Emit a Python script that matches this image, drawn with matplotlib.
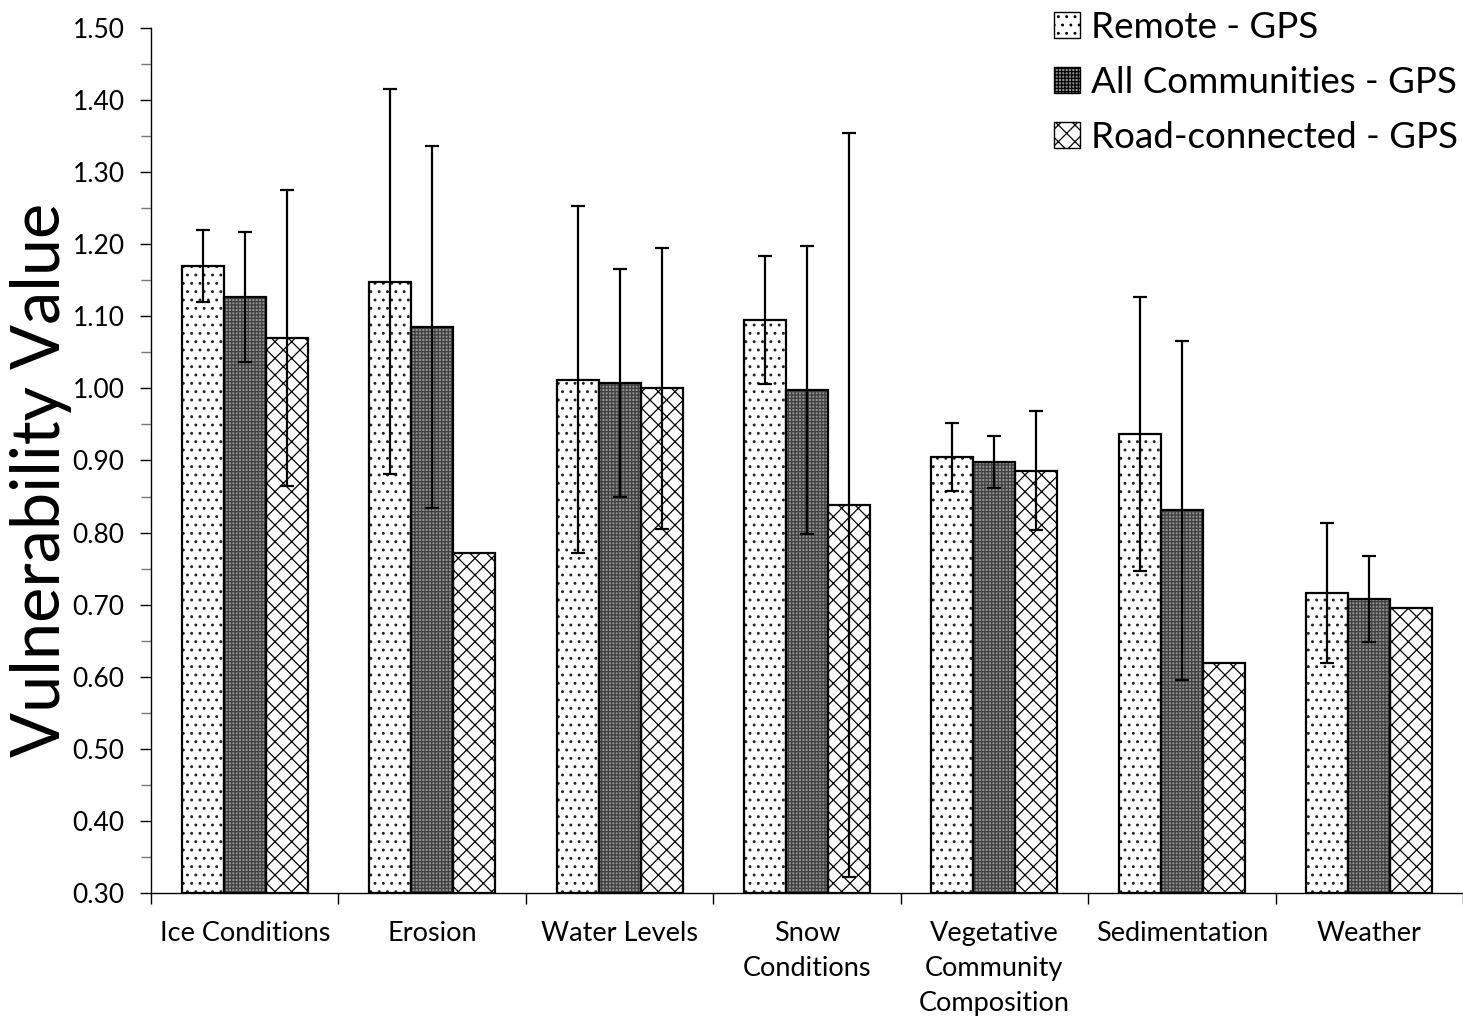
import numpy as np
import matplotlib
matplotlib.use("Agg")
from matplotlib import pyplot as plt
from matplotlib.ticker import MultipleLocator

# Data
categories = ["Ice Conditions", "Erosion", "Water Levels", "Snow\nConditions",
              "Vegetative\nCommunity\nComposition", "Sedimentation", "Weather"]
series_names = ["Remote - GPS", "All Communities - GPS", "Road-connected - GPS"]

remote = [1.170, 1.148, 1.012, 1.095, 0.905, 0.937, 0.716]
remote_err = [0.050, 0.267, 0.241, 0.089, 0.047, 0.190, 0.097]

all_comm = [1.127, 1.085, 1.008, 0.998, 0.898, 0.831, 0.708]
all_comm_err = [0.090, 0.251, 0.158, 0.200, 0.036, 0.235, 0.060]

road = [1.070, 0.772, 1.000, 0.838, 0.886, 0.619, 0.696]
road_err = [0.205, 0.0, 0.195, 0.516, 0.083, 0.0, 0.0]

plt.rcParams['font.family'] = ['Lato', 'DejaVu Sans']
plt.rcParams['hatch.linewidth'] = 0.9

fig = plt.figure(figsize=(14.63, 10.21), dpi=100)
ax = fig.add_axes([0.1032, 0.1254, 0.8968, 0.8472])

x = np.arange(len(categories))
width = 0.224
styles = [
    dict(facecolor="white", hatch="..", edgecolor="#222222"),
    dict(facecolor="#909090", hatch="+++++", edgecolor="#404040"),
    dict(facecolor="white", hatch="xx", edgecolor="black"),
]
values = [remote, all_comm, road]
errors = [remote_err, all_comm_err, road_err]

for i, (vals, errs, st, name) in enumerate(zip(values, errors, styles, series_names)):
    pos = x + (i - 1) * width
    ax.bar(pos, np.array(vals) - 0.30, width, bottom=0.30,
           facecolor=st["facecolor"], hatch=st["hatch"],
           edgecolor=st["edgecolor"], linewidth=0, label=name, zorder=2)
    # outline on top in black
    ax.bar(pos, np.array(vals) - 0.30, width, bottom=0.30, fill=False,
           edgecolor="black", linewidth=1.6, zorder=3)
    errs = np.array(errs)
    mask = errs > 0
    ax.errorbar(pos[mask], np.array(vals)[mask], yerr=errs[mask], fmt="none",
                ecolor="black", elinewidth=1.6, capsize=5, capthick=1.6, zorder=4)

ax.set_xlim(-0.5, len(categories) - 0.5)
ax.set_ylim(0.30, 1.50)
ax.yaxis.set_major_locator(MultipleLocator(0.10))
ax.yaxis.set_minor_locator(MultipleLocator(0.05))
ax.yaxis.set_major_formatter(matplotlib.ticker.FormatStrFormatter('%.2f'))

ax.set_xticks(x)
ax.set_xticklabels(categories, fontsize=19.5, linespacing=1.5, va="top")
ax.tick_params(axis="x", which="major", length=0, pad=20)
ax.set_xticks(np.arange(-0.5, len(categories) + 0.5, 1.0), minor=True)
ax.tick_params(axis="x", which="minor", length=8, width=1, direction="out")

ax.tick_params(axis="y", which="major", labelsize=19, length=8, width=1,
               direction="out", pad=11)
ax.tick_params(axis="y", which="minor", length=7, width=1, color="#777777",
               direction="out")

for side in ["top", "right"]:
    ax.spines[side].set_visible(False)
ax.spines["left"].set_linewidth(1)
ax.spines["bottom"].set_linewidth(1)

ax.set_ylabel("Vulnerability Value", fontsize=48)
ax.yaxis.set_label_coords(-0.060, 0.477)

leg = fig.legend(loc="upper right", bbox_to_anchor=(1.019, 1.022), frameon=False,
                 fontsize=26.5, handlelength=0.7, handleheight=0.7,
                 handletextpad=0.3, labelspacing=0.6)
for h in leg.legend_handles:
    h.set_linewidth(1.0)
    h.set_edgecolor("black")

fig.savefig("out.png", dpi=100)
